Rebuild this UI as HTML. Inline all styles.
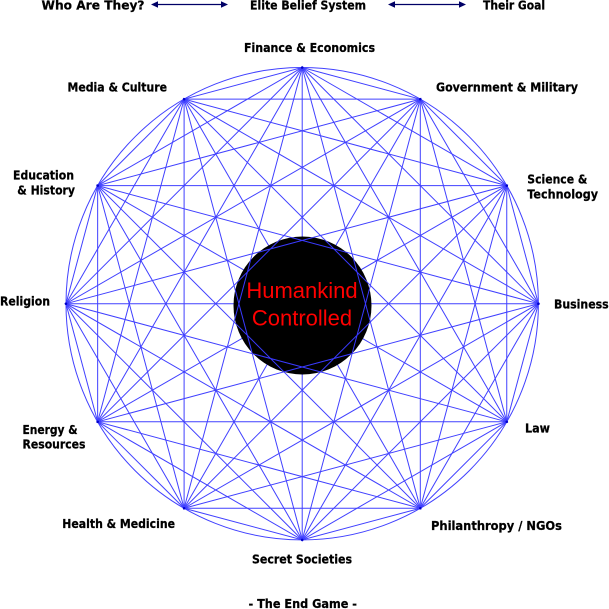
<!DOCTYPE html>
<html>
<head>
<meta charset="utf-8">
<style>
  html, body { margin: 0; padding: 0; background: #ffffff; }
  body { width: 609px; height: 609px; overflow: hidden; }
  svg { display: block; }
  .lbl { font-family: "DejaVu Sans", "Liberation Sans", sans-serif; font-weight: bold; font-size: 12px; fill: #000000; stroke: #000000; stroke-width: 0.25; }
  .red { font-family: "Liberation Sans", Arial, sans-serif; font-size: 22px; fill: #ff0000; }
</style>
</head>
<body>
<svg width="609" height="609" viewBox="0 0 609 609" xmlns="http://www.w3.org/2000/svg">
  <defs>
    <clipPath id="cc">
      <circle cx="302.5" cy="305.5" r="69"/>
    </clipPath>
  </defs>

  <!-- graph lines -->
  <g fill="none" stroke="#4040ff" stroke-width="1">
    <circle cx="302.2" cy="303.7" r="236.2"/>
    <!-- skip 1 -->
    <polygon points="302.2,67.5 420.3,99.15 506.75,185.6 538.4,303.7 506.75,421.8 420.3,508.25 302.2,539.9 184.1,508.25 97.65,421.8 66,303.7 97.65,185.6 184.1,99.15"/>
    <!-- skip 2 -->
    <polygon points="302.2,67.5 506.75,185.6 506.75,421.8 302.2,539.9 97.65,421.8 97.65,185.6"/>
    <polygon points="420.3,99.15 538.4,303.7 420.3,508.25 184.1,508.25 66,303.7 184.1,99.15"/>
    <!-- skip 3 -->
    <polygon points="302.2,67.5 538.4,303.7 302.2,539.9 66,303.7"/>
    <polygon points="420.3,99.15 506.75,421.8 184.1,508.25 97.65,185.6"/>
    <polygon points="506.75,185.6 420.3,508.25 97.65,421.8 184.1,99.15"/>
    <!-- skip 4 -->
    <polygon points="302.2,67.5 506.75,421.8 97.65,421.8"/>
    <polygon points="420.3,99.15 420.3,508.25 66,303.7"/>
    <polygon points="506.75,185.6 302.2,539.9 97.65,185.6"/>
    <polygon points="538.4,303.7 184.1,508.25 184.1,99.15"/>
    <!-- skip 5 -->
    <polygon points="302.2,67.5 420.3,508.25 97.65,185.6 538.4,303.7 97.65,421.8 420.3,99.15 302.2,539.9 184.1,99.15 506.75,421.8 66,303.7 506.75,185.6 184.1,508.25"/>
    <!-- skip 6 (diameters) -->
    <line x1="302.2" y1="67.5" x2="302.2" y2="539.9"/>
    <line x1="420.3" y1="99.15" x2="184.1" y2="508.25"/>
    <line x1="506.75" y1="185.6" x2="97.65" y2="421.8"/>
    <line x1="538.4" y1="303.7" x2="66" y2="303.7"/>
    <line x1="506.75" y1="421.8" x2="97.65" y2="185.6"/>
    <line x1="420.3" y1="508.25" x2="184.1" y2="99.15"/>
  </g>

  <!-- vertex dots -->
  <g fill="#0000cc">
    <circle cx="302.2" cy="67.5" r="1.3"/>
    <circle cx="420.3" cy="99.15" r="1.3"/>
    <circle cx="506.75" cy="185.6" r="1.3"/>
    <circle cx="538.4" cy="303.7" r="1.3"/>
    <circle cx="506.75" cy="421.8" r="1.3"/>
    <circle cx="420.3" cy="508.25" r="1.3"/>
    <circle cx="302.2" cy="539.9" r="1.3"/>
    <circle cx="184.1" cy="508.25" r="1.3"/>
    <circle cx="97.65" cy="421.8" r="1.3"/>
    <circle cx="66" cy="303.7" r="1.3"/>
    <circle cx="97.65" cy="185.6" r="1.3"/>
    <circle cx="184.1" cy="99.15" r="1.3"/>
  </g>

  <!-- central black disk -->
  <circle cx="302.5" cy="305.5" r="69" fill="#000000"/>
  <g clip-path="url(#cc)" fill="none" stroke="#3a3aff" stroke-width="1">
    <polygon points="302.2,67.5 420.3,508.25 97.65,185.6 538.4,303.7 97.65,421.8 420.3,99.15 302.2,539.9 184.1,99.15 506.75,421.8 66,303.7 506.75,185.6 184.1,508.25"/>
  </g>
  <text class="red" x="302" y="298" text-anchor="middle">Humankind</text>
  <text class="red" x="302" y="325.5" text-anchor="middle">Controlled</text>

  <!-- top header arrows -->
  <g stroke="#000066" stroke-width="1.2">
    <line x1="155" y1="4.5" x2="224" y2="4.5"/>
    <line x1="392" y1="4.5" x2="462" y2="4.5"/>
  </g>
  <g fill="#000066">
    <polygon points="151,4.5 158,1.3 158,7.7"/>
    <polygon points="228,4.5 221,1.3 221,7.7"/>
    <polygon points="388,4.5 395,1.3 395,7.7"/>
    <polygon points="466,4.5 459,1.3 459,7.7"/>
  </g>

  <!-- labels -->
  <text class="lbl" x="41.5" y="9.5" textLength="103" lengthAdjust="spacingAndGlyphs">Who Are They?</text>
  <text class="lbl" x="250" y="9.5" textLength="116" lengthAdjust="spacingAndGlyphs">Elite Belief System</text>
  <text class="lbl" x="483" y="9.5" textLength="62" lengthAdjust="spacingAndGlyphs">Their Goal</text>

  <text class="lbl" x="244" y="52" textLength="131" lengthAdjust="spacingAndGlyphs">Finance &amp; Economics</text>
  <text class="lbl" x="67.5" y="91.7" textLength="99.5" lengthAdjust="spacingAndGlyphs">Media &amp; Culture</text>
  <text class="lbl" x="436" y="91.7" textLength="142" lengthAdjust="spacingAndGlyphs">Government &amp; Military</text>

  <text class="lbl" x="13" y="179.3" textLength="61" lengthAdjust="spacingAndGlyphs">Education</text>
  <text class="lbl" x="17.3" y="194.3" textLength="57.7" lengthAdjust="spacingAndGlyphs">&amp; History</text>

  <text class="lbl" x="527.3" y="183.3" textLength="60" lengthAdjust="spacingAndGlyphs">Science &amp;</text>
  <text class="lbl" x="527.3" y="198.5" textLength="70.7" lengthAdjust="spacingAndGlyphs">Technology</text>

  <text class="lbl" x="0" y="305.7" textLength="50" lengthAdjust="spacingAndGlyphs">Religion</text>
  <text class="lbl" x="554" y="308.7" textLength="54.7" lengthAdjust="spacingAndGlyphs">Business</text>

  <text class="lbl" x="22.5" y="433.8" textLength="55" lengthAdjust="spacingAndGlyphs">Energy &amp;</text>
  <text class="lbl" x="22.5" y="448.7" textLength="63" lengthAdjust="spacingAndGlyphs">Resources</text>
  <text class="lbl" x="525" y="432.7" textLength="25" lengthAdjust="spacingAndGlyphs">Law</text>

  <text class="lbl" x="62.3" y="528" textLength="112.7" lengthAdjust="spacingAndGlyphs">Health &amp; Medicine</text>
  <text class="lbl" x="431" y="529.8" textLength="131" lengthAdjust="spacingAndGlyphs">Philanthropy / NGOs</text>
  <text class="lbl" x="252" y="563.7" textLength="100" lengthAdjust="spacingAndGlyphs">Secret Societies</text>
  <text class="lbl" x="248.5" y="608" textLength="108.5" lengthAdjust="spacingAndGlyphs">- The End Game -</text>
</svg>
</body>
</html>
